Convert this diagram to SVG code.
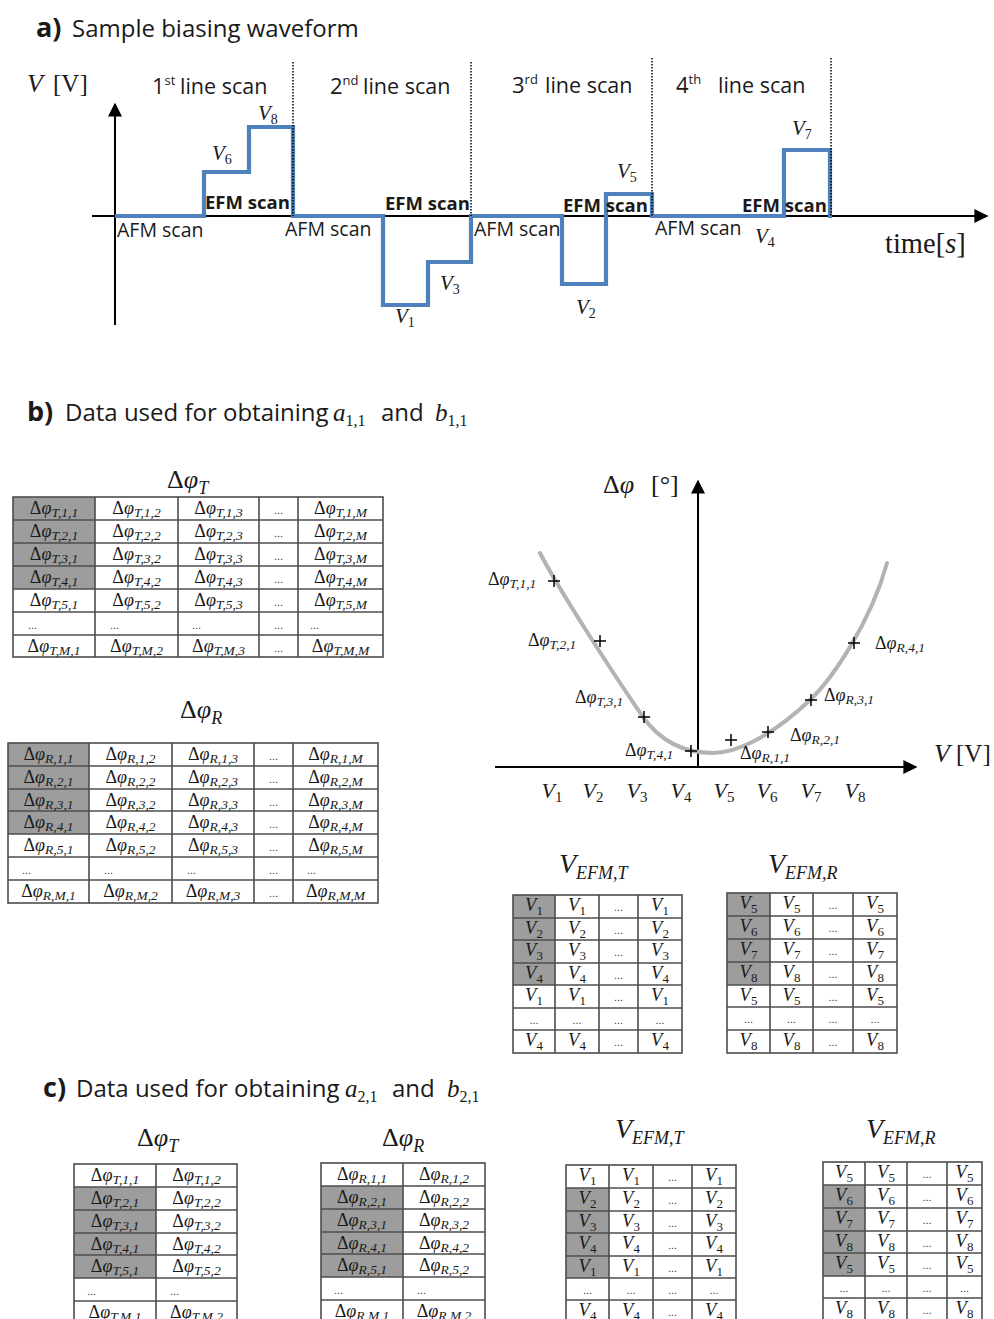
<svg xmlns="http://www.w3.org/2000/svg" width="994" height="1319" viewBox="0 0 994 1319">
<style>
.sa{font-family:"Open Sans","Liberation Sans",sans-serif;fill:#1a1a1a}
.se{font-family:"Liberation Serif","DejaVu Serif",serif;fill:#1a1a1a}
.i{font-style:italic}
.n{font-style:normal}
.b{font-weight:bold}
.t{font-family:"Liberation Serif","DejaVu Serif",serif;font-size:18px;text-anchor:middle;fill:#1a1a1a}
.l{text-anchor:start}
.s{font-size:13.5px;font-style:italic}
.v{font-family:"Liberation Serif","DejaVu Serif",serif;font-size:18.5px;text-anchor:middle;font-style:italic;fill:#1a1a1a}
.vs{font-size:13px;font-style:normal}
.d{font-family:"Liberation Sans",sans-serif;font-size:11px;fill:#333}
.m{text-anchor:middle}
.grid{fill:none;stroke:#4d4d4d;stroke-width:1.6}
.sh{fill:#9d9d9d}
.wave{fill:none;stroke:#4f81bd;stroke-width:4.2}
.ax{fill:none;stroke:#000;stroke-width:2}
.dot{fill:none;stroke:#000;stroke-width:1.5;stroke-dasharray:1.5 1.5}
.curve{fill:none;stroke:#b3b3b3;stroke-width:4;stroke-linecap:round}
.cr{fill:none;stroke:#000;stroke-width:1.5}
</style>
<defs>
<marker id="ah" viewBox="0 0 10 10" refX="9" refY="5" markerWidth="14" markerHeight="14" markerUnits="userSpaceOnUse" orient="auto"><path d="M0,0 L10,5 L0,10 z" fill="#000"/></marker>
</defs>
<rect width="994" height="1319" fill="#fff"/>

<!-- ===== Panel a ===== -->
<g id="panel-a">
<text class="sa b" x="36" y="37" font-size="27">a)</text>
<text class="sa" x="72" y="37" font-size="24">Sample biasing waveform</text>
<text class="se i" x="27" y="92" font-size="26">V</text>
<text class="se" x="53" y="92" font-size="25">[V]</text>
<text class="sa" x="152" y="94" font-size="22">1<tspan font-size="13" dy="-9">st</tspan></text>
<text class="sa" x="180" y="94" font-size="21.5">line scan</text>
<text class="sa" x="330" y="94" font-size="22">2<tspan font-size="13" dy="-9">nd</tspan></text>
<text class="sa" x="363" y="94" font-size="21.5">line scan</text>
<text class="sa" x="512" y="93" font-size="22">3<tspan font-size="13" dy="-9">rd</tspan></text>
<text class="sa" x="545" y="93" font-size="21.5">line scan</text>
<text class="sa" x="676" y="93" font-size="22">4<tspan font-size="13" dy="-9">th</tspan></text>
<text class="sa" x="718" y="93" font-size="21.5">line scan</text>
<text class="se" x="885" y="253" font-size="28.5">time[<tspan class="i">s</tspan>]</text>
</g>
<g id="waveform-axes">
<line class="ax" x1="115" y1="325" x2="115" y2="104" marker-end="url(#ah)"/>
<line class="ax" x1="92" y1="216" x2="987" y2="216" marker-end="url(#ah)"/>
</g>
<g id="waveform">
<path class="wave" d="M115,216 H204 V172 H249 V127 H293 V216 H383 V305 H428 V262 H471 V216 H562 V284 H606 V194 H652 V216 H784 V150 H830 V218"/>
<path class="dot" d="M293,62 V216 M471,62 V216 M652,58 V216 M831,58 V216"/>
</g>
<g id="waveform-labels">
<text class="sa b" x="205" y="209" font-size="18.5">EFM scan</text>
<text class="sa b" x="385" y="210" font-size="18.5">EFM scan</text>
<text class="sa b" x="563" y="212" font-size="18.5">EFM scan</text>
<text class="sa b" x="742" y="212" font-size="18.5">EFM scan</text>
<text class="sa" x="117" y="237" font-size="19.5">AFM scan</text>
<text class="sa" x="285" y="236" font-size="19.5">AFM scan</text>
<text class="sa" x="474" y="236" font-size="19.5">AFM scan</text>
<text class="sa" x="655" y="235" font-size="19.5">AFM scan</text>
<text class="se i" x="258" y="120" font-size="21">V<tspan class="n" font-size="14" dy="4">8</tspan></text>
<text class="se i" x="212" y="160" font-size="21">V<tspan class="n" font-size="14" dy="4">6</tspan></text>
<text class="se i" x="395" y="323" font-size="21">V<tspan class="n" font-size="14" dy="4">1</tspan></text>
<text class="se i" x="440" y="290" font-size="21">V<tspan class="n" font-size="14" dy="4">3</tspan></text>
<text class="se i" x="576" y="314" font-size="21">V<tspan class="n" font-size="14" dy="4">2</tspan></text>
<text class="se i" x="617" y="178" font-size="21">V<tspan class="n" font-size="14" dy="4">5</tspan></text>
<text class="se i" x="755" y="243" font-size="21">V<tspan class="n" font-size="14" dy="4">4</tspan></text>
<text class="se i" x="792" y="135" font-size="21">V<tspan class="n" font-size="14" dy="4">7</tspan></text>
</g>

<!-- ===== Panel b header ===== -->
<g id="panel-b-title">
<text class="sa b" x="27" y="421" font-size="27">b)</text>
<text class="sa" x="65" y="421" font-size="24">Data used for obtaining</text>
<text class="se i" x="333" y="421" font-size="25">a<tspan class="n" font-size="16" dy="5">1,1</tspan></text>
<text class="sa" x="381" y="421" font-size="24">and</text>
<text class="se i" x="435" y="421" font-size="25">b<tspan class="n" font-size="16" dy="5">1,1</tspan></text>
</g>

<!-- Table b ΔφT -->
<g id="table-b-phiT">
<text class="se" x="167" y="488" font-size="26">Δ<tspan class="i">φ</tspan><tspan class="i" font-size="18" dy="6">T</tspan></text>
<rect class="sh" x="13" y="497" width="82" height="92"/>
<rect class="grid" x="13" y="497" width="370" height="160"/>
<path class="grid" d="M95,497V657M178,497V657M259,497V657M298,497V657M13,520H383M13,543H383M13,566H383M13,589H383M13,612H383M13,635H383"/>
<text class="t" x="54" y="514">Δ<tspan class="i">φ</tspan><tspan class="s" dy="3">T,1,1</tspan></text>
<text class="t" x="136.5" y="514">Δ<tspan class="i">φ</tspan><tspan class="s" dy="3">T,1,2</tspan></text>
<text class="t" x="218.5" y="514">Δ<tspan class="i">φ</tspan><tspan class="s" dy="3">T,1,3</tspan></text>
<text class="d m" x="278.5" y="514">...</text>
<text class="t" x="340.5" y="514">Δ<tspan class="i">φ</tspan><tspan class="s" dy="3">T,1,M</tspan></text>
<text class="t" x="54" y="537">Δ<tspan class="i">φ</tspan><tspan class="s" dy="3">T,2,1</tspan></text>
<text class="t" x="136.5" y="537">Δ<tspan class="i">φ</tspan><tspan class="s" dy="3">T,2,2</tspan></text>
<text class="t" x="218.5" y="537">Δ<tspan class="i">φ</tspan><tspan class="s" dy="3">T,2,3</tspan></text>
<text class="d m" x="278.5" y="537">...</text>
<text class="t" x="340.5" y="537">Δ<tspan class="i">φ</tspan><tspan class="s" dy="3">T,2,M</tspan></text>
<text class="t" x="54" y="560">Δ<tspan class="i">φ</tspan><tspan class="s" dy="3">T,3,1</tspan></text>
<text class="t" x="136.5" y="560">Δ<tspan class="i">φ</tspan><tspan class="s" dy="3">T,3,2</tspan></text>
<text class="t" x="218.5" y="560">Δ<tspan class="i">φ</tspan><tspan class="s" dy="3">T,3,3</tspan></text>
<text class="d m" x="278.5" y="560">...</text>
<text class="t" x="340.5" y="560">Δ<tspan class="i">φ</tspan><tspan class="s" dy="3">T,3,M</tspan></text>
<text class="t" x="54" y="583">Δ<tspan class="i">φ</tspan><tspan class="s" dy="3">T,4,1</tspan></text>
<text class="t" x="136.5" y="583">Δ<tspan class="i">φ</tspan><tspan class="s" dy="3">T,4,2</tspan></text>
<text class="t" x="218.5" y="583">Δ<tspan class="i">φ</tspan><tspan class="s" dy="3">T,4,3</tspan></text>
<text class="d m" x="278.5" y="583">...</text>
<text class="t" x="340.5" y="583">Δ<tspan class="i">φ</tspan><tspan class="s" dy="3">T,4,M</tspan></text>
<text class="t" x="54" y="606">Δ<tspan class="i">φ</tspan><tspan class="s" dy="3">T,5,1</tspan></text>
<text class="t" x="136.5" y="606">Δ<tspan class="i">φ</tspan><tspan class="s" dy="3">T,5,2</tspan></text>
<text class="t" x="218.5" y="606">Δ<tspan class="i">φ</tspan><tspan class="s" dy="3">T,5,3</tspan></text>
<text class="d m" x="278.5" y="606">...</text>
<text class="t" x="340.5" y="606">Δ<tspan class="i">φ</tspan><tspan class="s" dy="3">T,5,M</tspan></text>
<text class="d" x="28" y="629">...</text>
<text class="d" x="110" y="629">...</text>
<text class="d" x="192" y="629">...</text>
<text class="d m" x="278.5" y="629">...</text>
<text class="d" x="310" y="629">...</text>
<text class="t" x="54" y="652">Δ<tspan class="i">φ</tspan><tspan class="s" dy="3">T,M,1</tspan></text>
<text class="t" x="136.5" y="652">Δ<tspan class="i">φ</tspan><tspan class="s" dy="3">T,M,2</tspan></text>
<text class="t" x="218.5" y="652">Δ<tspan class="i">φ</tspan><tspan class="s" dy="3">T,M,3</tspan></text>
<text class="d m" x="278.5" y="652">...</text>
<text class="t" x="340.5" y="652">Δ<tspan class="i">φ</tspan><tspan class="s" dy="3">T,M,M</tspan></text>
</g>

<!-- Table b ΔφR -->
<g id="table-b-phiR">
<text class="se" x="180" y="718" font-size="26">Δ<tspan class="i">φ</tspan><tspan class="i" font-size="18" dy="6">R</tspan></text>
<rect class="sh" x="8" y="743" width="81" height="91"/>
<rect class="grid" x="8" y="743" width="370" height="160"/>
<path class="grid" d="M89,743V903M172,743V903M254,743V903M293,743V903M8,766H378M8,789H378M8,811H378M8,834H378M8,857H378M8,880H378"/>
<text class="t" x="48.5" y="760">Δ<tspan class="i">φ</tspan><tspan class="s" dy="3">R,1,1</tspan></text>
<text class="t" x="130.5" y="760">Δ<tspan class="i">φ</tspan><tspan class="s" dy="3">R,1,2</tspan></text>
<text class="t" x="213" y="760">Δ<tspan class="i">φ</tspan><tspan class="s" dy="3">R,1,3</tspan></text>
<text class="d m" x="273.5" y="760">...</text>
<text class="t" x="335.5" y="760">Δ<tspan class="i">φ</tspan><tspan class="s" dy="3">R,1,M</tspan></text>
<text class="t" x="48.5" y="783">Δ<tspan class="i">φ</tspan><tspan class="s" dy="3">R,2,1</tspan></text>
<text class="t" x="130.5" y="783">Δ<tspan class="i">φ</tspan><tspan class="s" dy="3">R,2,2</tspan></text>
<text class="t" x="213" y="783">Δ<tspan class="i">φ</tspan><tspan class="s" dy="3">R,2,3</tspan></text>
<text class="d m" x="273.5" y="783">...</text>
<text class="t" x="335.5" y="783">Δ<tspan class="i">φ</tspan><tspan class="s" dy="3">R,2,M</tspan></text>
<text class="t" x="48.5" y="806">Δ<tspan class="i">φ</tspan><tspan class="s" dy="3">R,3,1</tspan></text>
<text class="t" x="130.5" y="806">Δ<tspan class="i">φ</tspan><tspan class="s" dy="3">R,3,2</tspan></text>
<text class="t" x="213" y="806">Δ<tspan class="i">φ</tspan><tspan class="s" dy="3">R,3,3</tspan></text>
<text class="d m" x="273.5" y="806">...</text>
<text class="t" x="335.5" y="806">Δ<tspan class="i">φ</tspan><tspan class="s" dy="3">R,3,M</tspan></text>
<text class="t" x="48.5" y="828">Δ<tspan class="i">φ</tspan><tspan class="s" dy="3">R,4,1</tspan></text>
<text class="t" x="130.5" y="828">Δ<tspan class="i">φ</tspan><tspan class="s" dy="3">R,4,2</tspan></text>
<text class="t" x="213" y="828">Δ<tspan class="i">φ</tspan><tspan class="s" dy="3">R,4,3</tspan></text>
<text class="d m" x="273.5" y="828">...</text>
<text class="t" x="335.5" y="828">Δ<tspan class="i">φ</tspan><tspan class="s" dy="3">R,4,M</tspan></text>
<text class="t" x="48.5" y="851">Δ<tspan class="i">φ</tspan><tspan class="s" dy="3">R,5,1</tspan></text>
<text class="t" x="130.5" y="851">Δ<tspan class="i">φ</tspan><tspan class="s" dy="3">R,5,2</tspan></text>
<text class="t" x="213" y="851">Δ<tspan class="i">φ</tspan><tspan class="s" dy="3">R,5,3</tspan></text>
<text class="d m" x="273.5" y="851">...</text>
<text class="t" x="335.5" y="851">Δ<tspan class="i">φ</tspan><tspan class="s" dy="3">R,5,M</tspan></text>
<text class="d" x="22" y="874">...</text>
<text class="d" x="104" y="874">...</text>
<text class="d" x="187" y="874">...</text>
<text class="d m" x="273.5" y="874">...</text>
<text class="d" x="307" y="874">...</text>
<text class="t" x="48.5" y="897">Δ<tspan class="i">φ</tspan><tspan class="s" dy="3">R,M,1</tspan></text>
<text class="t" x="130.5" y="897">Δ<tspan class="i">φ</tspan><tspan class="s" dy="3">R,M,2</tspan></text>
<text class="t" x="213" y="897">Δ<tspan class="i">φ</tspan><tspan class="s" dy="3">R,M,3</tspan></text>
<text class="d m" x="273.5" y="897">...</text>
<text class="t" x="335.5" y="897">Δ<tspan class="i">φ</tspan><tspan class="s" dy="3">R,M,M</tspan></text>
</g>

<!-- Graph -->
<g id="graph-axes">
<line class="ax" x1="698" y1="767" x2="698" y2="481" marker-end="url(#ah)"/>
<line class="ax" x1="495" y1="767" x2="916" y2="767" marker-end="url(#ah)"/>
<text class="se" x="603" y="493" font-size="26">Δ<tspan class="i">φ</tspan></text>
<text class="se" x="651" y="493" font-size="26">[°]</text>
<text class="se i" x="934" y="762" font-size="26">V</text>
<text class="se" x="956" y="762" font-size="25">[V]</text>
</g>
<g id="graph-curve">
<path class="curve" d="M540,553 C558,588 612,672 643,717 C663,745 690,753 713,753 C735,753 770,738 810,700 C830,681 870,625 887,563"/>
</g>
<g id="graph-points">
<path class="cr" d="M548,581h12M554,575v12 M594,641h12M600,635v12 M638,717h12M644,711v12 M685,751h12M691,745v12 M725,740h12M731,734v12 M762,732h12M768,726v12 M805,700h12M811,694v12 M848,643h12M854,637v12"/>
<text class="t l" x="488" y="585">Δ<tspan class="i">φ</tspan><tspan class="s" dy="3">T,1,1</tspan></text>
<text class="t l" x="528" y="646">Δ<tspan class="i">φ</tspan><tspan class="s" dy="3">T,2,1</tspan></text>
<text class="t l" x="575" y="703">Δ<tspan class="i">φ</tspan><tspan class="s" dy="3">T,3,1</tspan></text>
<text class="t l" x="625" y="756">Δ<tspan class="i">φ</tspan><tspan class="s" dy="3">T,4,1</tspan></text>
<text class="t l" x="740" y="759">Δ<tspan class="i">φ</tspan><tspan class="s" dy="3">R,1,1</tspan></text>
<text class="t l" x="790" y="741">Δ<tspan class="i">φ</tspan><tspan class="s" dy="3">R,2,1</tspan></text>
<text class="t l" x="824" y="701">Δ<tspan class="i">φ</tspan><tspan class="s" dy="3">R,3,1</tspan></text>
<text class="t l" x="875" y="649">Δ<tspan class="i">φ</tspan><tspan class="s" dy="3">R,4,1</tspan></text>
</g>
<g id="graph-ticks">
<text class="se i m" x="552" y="798" font-size="22">V<tspan class="n" font-size="15" dy="4">1</tspan></text>
<text class="se i m" x="593" y="798" font-size="22">V<tspan class="n" font-size="15" dy="4">2</tspan></text>
<text class="se i m" x="637" y="798" font-size="22">V<tspan class="n" font-size="15" dy="4">3</tspan></text>
<text class="se i m" x="681" y="798" font-size="22">V<tspan class="n" font-size="15" dy="4">4</tspan></text>
<text class="se i m" x="724" y="798" font-size="22">V<tspan class="n" font-size="15" dy="4">5</tspan></text>
<text class="se i m" x="767" y="798" font-size="22">V<tspan class="n" font-size="15" dy="4">6</tspan></text>
<text class="se i m" x="811" y="798" font-size="22">V<tspan class="n" font-size="15" dy="4">7</tspan></text>
<text class="se i m" x="855" y="798" font-size="22">V<tspan class="n" font-size="15" dy="4">8</tspan></text>
</g>

<!-- Table b VEFM,T -->
<g id="table-b-VT">
<text class="se i" x="559" y="873" font-size="28">V<tspan font-size="18" dy="6">EFM,T</tspan></text>
<rect class="sh" x="513" y="895" width="42" height="90"/>
<rect class="grid" x="513" y="895" width="169" height="158"/>
<path class="grid" d="M555,895V1053M599,895V1053M638,895V1053M513,918H682M513,940H682M513,963H682M513,985H682M513,1008H682M513,1030H682"/>
<text class="v" x="534" y="911">V<tspan class="vs" dy="4">1</tspan></text><text class="v" x="577" y="911">V<tspan class="vs" dy="4">1</tspan></text><text class="d m" x="618.5" y="911">...</text><text class="v" x="660" y="911">V<tspan class="vs" dy="4">1</tspan></text>
<text class="v" x="534" y="934">V<tspan class="vs" dy="4">2</tspan></text><text class="v" x="577" y="934">V<tspan class="vs" dy="4">2</tspan></text><text class="d m" x="618.5" y="934">...</text><text class="v" x="660" y="934">V<tspan class="vs" dy="4">2</tspan></text>
<text class="v" x="534" y="956">V<tspan class="vs" dy="4">3</tspan></text><text class="v" x="577" y="956">V<tspan class="vs" dy="4">3</tspan></text><text class="d m" x="618.5" y="956">...</text><text class="v" x="660" y="956">V<tspan class="vs" dy="4">3</tspan></text>
<text class="v" x="534" y="979">V<tspan class="vs" dy="4">4</tspan></text><text class="v" x="577" y="979">V<tspan class="vs" dy="4">4</tspan></text><text class="d m" x="618.5" y="979">...</text><text class="v" x="660" y="979">V<tspan class="vs" dy="4">4</tspan></text>
<text class="v" x="534" y="1001">V<tspan class="vs" dy="4">1</tspan></text><text class="v" x="577" y="1001">V<tspan class="vs" dy="4">1</tspan></text><text class="d m" x="618.5" y="1001">...</text><text class="v" x="660" y="1001">V<tspan class="vs" dy="4">1</tspan></text>
<text class="d m" x="534" y="1024">...</text><text class="d m" x="577" y="1024">...</text><text class="d m" x="618.5" y="1024">...</text><text class="d m" x="660" y="1024">...</text>
<text class="v" x="534" y="1046">V<tspan class="vs" dy="4">4</tspan></text><text class="v" x="577" y="1046">V<tspan class="vs" dy="4">4</tspan></text><text class="d m" x="618.5" y="1046">...</text><text class="v" x="660" y="1046">V<tspan class="vs" dy="4">4</tspan></text>
</g>

<!-- Table b VEFM,R -->
<g id="table-b-VR">
<text class="se i" x="768" y="873" font-size="28">V<tspan font-size="18" dy="6">EFM,R</tspan></text>
<rect class="sh" x="727" y="893" width="43" height="92"/>
<rect class="grid" x="727" y="893" width="170" height="160"/>
<path class="grid" d="M770,893V1053M813,893V1053M853,893V1053M727,916H897M727,939H897M727,962H897M727,985H897M727,1007H897M727,1030H897"/>
<text class="v" x="748.5" y="909">V<tspan class="vs" dy="4">5</tspan></text><text class="v" x="791.5" y="909">V<tspan class="vs" dy="4">5</tspan></text><text class="d m" x="833" y="909">...</text><text class="v" x="875" y="909">V<tspan class="vs" dy="4">5</tspan></text>
<text class="v" x="748.5" y="932">V<tspan class="vs" dy="4">6</tspan></text><text class="v" x="791.5" y="932">V<tspan class="vs" dy="4">6</tspan></text><text class="d m" x="833" y="932">...</text><text class="v" x="875" y="932">V<tspan class="vs" dy="4">6</tspan></text>
<text class="v" x="748.5" y="955">V<tspan class="vs" dy="4">7</tspan></text><text class="v" x="791.5" y="955">V<tspan class="vs" dy="4">7</tspan></text><text class="d m" x="833" y="955">...</text><text class="v" x="875" y="955">V<tspan class="vs" dy="4">7</tspan></text>
<text class="v" x="748.5" y="978">V<tspan class="vs" dy="4">8</tspan></text><text class="v" x="791.5" y="978">V<tspan class="vs" dy="4">8</tspan></text><text class="d m" x="833" y="978">...</text><text class="v" x="875" y="978">V<tspan class="vs" dy="4">8</tspan></text>
<text class="v" x="748.5" y="1001">V<tspan class="vs" dy="4">5</tspan></text><text class="v" x="791.5" y="1001">V<tspan class="vs" dy="4">5</tspan></text><text class="d m" x="833" y="1001">...</text><text class="v" x="875" y="1001">V<tspan class="vs" dy="4">5</tspan></text>
<text class="d m" x="748.5" y="1023">...</text><text class="d m" x="791.5" y="1023">...</text><text class="d m" x="833" y="1023">...</text><text class="d m" x="875" y="1023">...</text>
<text class="v" x="748.5" y="1046">V<tspan class="vs" dy="4">8</tspan></text><text class="v" x="791.5" y="1046">V<tspan class="vs" dy="4">8</tspan></text><text class="d m" x="833" y="1046">...</text><text class="v" x="875" y="1046">V<tspan class="vs" dy="4">8</tspan></text>
</g>

<!-- ===== Panel c ===== -->
<g id="panel-c-title">
<text class="sa b" x="43" y="1097" font-size="27">c)</text>
<text class="sa" x="76" y="1097" font-size="24">Data used for obtaining</text>
<text class="se i" x="345" y="1097" font-size="25">a<tspan class="n" font-size="16" dy="5">2,1</tspan></text>
<text class="sa" x="392" y="1097" font-size="24">and</text>
<text class="se i" x="447" y="1097" font-size="25">b<tspan class="n" font-size="16" dy="5">2,1</tspan></text>
</g>

<g id="table-c-phiT">
<text class="se" x="137" y="1146" font-size="26">Δ<tspan class="i">φ</tspan><tspan class="i" font-size="18" dy="6">T</tspan></text>
<rect class="sh" x="74" y="1187" width="82" height="91"/>
<rect class="grid" x="74" y="1164" width="163" height="170"/>
<path class="grid" d="M156,1164V1334M74,1187H237M74,1210H237M74,1233H237M74,1255H237M74,1278H237M74,1301H237"/>
<text class="t" x="115" y="1181">Δ<tspan class="i">φ</tspan><tspan class="s" dy="3">T,1,1</tspan></text><text class="t" x="196.5" y="1181">Δ<tspan class="i">φ</tspan><tspan class="s" dy="3">T,1,2</tspan></text>
<text class="t" x="115" y="1204">Δ<tspan class="i">φ</tspan><tspan class="s" dy="3">T,2,1</tspan></text><text class="t" x="196.5" y="1204">Δ<tspan class="i">φ</tspan><tspan class="s" dy="3">T,2,2</tspan></text>
<text class="t" x="115" y="1227">Δ<tspan class="i">φ</tspan><tspan class="s" dy="3">T,3,1</tspan></text><text class="t" x="196.5" y="1227">Δ<tspan class="i">φ</tspan><tspan class="s" dy="3">T,3,2</tspan></text>
<text class="t" x="115" y="1250">Δ<tspan class="i">φ</tspan><tspan class="s" dy="3">T,4,1</tspan></text><text class="t" x="196.5" y="1250">Δ<tspan class="i">φ</tspan><tspan class="s" dy="3">T,4,2</tspan></text>
<text class="t" x="115" y="1272">Δ<tspan class="i">φ</tspan><tspan class="s" dy="3">T,5,1</tspan></text><text class="t" x="196.5" y="1272">Δ<tspan class="i">φ</tspan><tspan class="s" dy="3">T,5,2</tspan></text>
<text class="d" x="87" y="1295">...</text><text class="d" x="170" y="1295">...</text>
<text class="t" x="115" y="1318">Δ<tspan class="i">φ</tspan><tspan class="s" dy="3">T,M,1</tspan></text><text class="t" x="196.5" y="1318">Δ<tspan class="i">φ</tspan><tspan class="s" dy="3">T,M,2</tspan></text>
</g>

<g id="table-c-phiR">
<text class="se" x="382" y="1146" font-size="26">Δ<tspan class="i">φ</tspan><tspan class="i" font-size="18" dy="6">R</tspan></text>
<rect class="sh" x="321" y="1186" width="82" height="91"/>
<rect class="grid" x="321" y="1163" width="164" height="170"/>
<path class="grid" d="M403,1163V1333M321,1186H485M321,1209H485M321,1232H485M321,1254H485M321,1277H485M321,1300H485"/>
<text class="t" x="362" y="1180">Δ<tspan class="i">φ</tspan><tspan class="s" dy="3">R,1,1</tspan></text><text class="t" x="444" y="1180">Δ<tspan class="i">φ</tspan><tspan class="s" dy="3">R,1,2</tspan></text>
<text class="t" x="362" y="1203">Δ<tspan class="i">φ</tspan><tspan class="s" dy="3">R,2,1</tspan></text><text class="t" x="444" y="1203">Δ<tspan class="i">φ</tspan><tspan class="s" dy="3">R,2,2</tspan></text>
<text class="t" x="362" y="1226">Δ<tspan class="i">φ</tspan><tspan class="s" dy="3">R,3,1</tspan></text><text class="t" x="444" y="1226">Δ<tspan class="i">φ</tspan><tspan class="s" dy="3">R,3,2</tspan></text>
<text class="t" x="362" y="1249">Δ<tspan class="i">φ</tspan><tspan class="s" dy="3">R,4,1</tspan></text><text class="t" x="444" y="1249">Δ<tspan class="i">φ</tspan><tspan class="s" dy="3">R,4,2</tspan></text>
<text class="t" x="362" y="1271">Δ<tspan class="i">φ</tspan><tspan class="s" dy="3">R,5,1</tspan></text><text class="t" x="444" y="1271">Δ<tspan class="i">φ</tspan><tspan class="s" dy="3">R,5,2</tspan></text>
<text class="d" x="334" y="1294">...</text><text class="d" x="417" y="1294">...</text>
<text class="t" x="362" y="1317">Δ<tspan class="i">φ</tspan><tspan class="s" dy="3">R,M,1</tspan></text><text class="t" x="444" y="1317">Δ<tspan class="i">φ</tspan><tspan class="s" dy="3">R,M,2</tspan></text>
</g>

<g id="table-c-VT">
<text class="se i" x="615" y="1138" font-size="28">V<tspan font-size="18" dy="6">EFM,T</tspan></text>
<rect class="sh" x="566" y="1188" width="43" height="90"/>
<rect class="grid" x="566" y="1165" width="170" height="170"/>
<path class="grid" d="M609,1165V1335M653,1165V1335M692,1165V1335M566,1188H736M566,1211H736M566,1233H736M566,1256H736M566,1278H736M566,1300H736"/>
<text class="v" x="587.5" y="1181">V<tspan class="vs" dy="4">1</tspan></text><text class="v" x="631" y="1181">V<tspan class="vs" dy="4">1</tspan></text><text class="d m" x="672.5" y="1181">...</text><text class="v" x="714" y="1181">V<tspan class="vs" dy="4">1</tspan></text>
<text class="v" x="587.5" y="1204">V<tspan class="vs" dy="4">2</tspan></text><text class="v" x="631" y="1204">V<tspan class="vs" dy="4">2</tspan></text><text class="d m" x="672.5" y="1204">...</text><text class="v" x="714" y="1204">V<tspan class="vs" dy="4">2</tspan></text>
<text class="v" x="587.5" y="1227">V<tspan class="vs" dy="4">3</tspan></text><text class="v" x="631" y="1227">V<tspan class="vs" dy="4">3</tspan></text><text class="d m" x="672.5" y="1227">...</text><text class="v" x="714" y="1227">V<tspan class="vs" dy="4">3</tspan></text>
<text class="v" x="587.5" y="1249">V<tspan class="vs" dy="4">4</tspan></text><text class="v" x="631" y="1249">V<tspan class="vs" dy="4">4</tspan></text><text class="d m" x="672.5" y="1249">...</text><text class="v" x="714" y="1249">V<tspan class="vs" dy="4">4</tspan></text>
<text class="v" x="587.5" y="1272">V<tspan class="vs" dy="4">1</tspan></text><text class="v" x="631" y="1272">V<tspan class="vs" dy="4">1</tspan></text><text class="d m" x="672.5" y="1272">...</text><text class="v" x="714" y="1272">V<tspan class="vs" dy="4">1</tspan></text>
<text class="d m" x="587.5" y="1294">...</text><text class="d m" x="631" y="1294">...</text><text class="d m" x="672.5" y="1294">...</text><text class="d m" x="714" y="1294">...</text>
<text class="v" x="587.5" y="1316">V<tspan class="vs" dy="4">4</tspan></text><text class="v" x="631" y="1316">V<tspan class="vs" dy="4">4</tspan></text><text class="d m" x="672.5" y="1316">...</text><text class="v" x="714" y="1316">V<tspan class="vs" dy="4">4</tspan></text>
</g>

<g id="table-c-VR">
<text class="se i" x="866" y="1138" font-size="28">V<tspan font-size="18" dy="6">EFM,R</tspan></text>
<rect class="sh" x="823" y="1185" width="42" height="91"/>
<rect class="grid" x="823" y="1162" width="159" height="170"/>
<path class="grid" d="M865,1162V1332M907,1162V1332M947,1162V1332M823,1185H982M823,1208H982M823,1231H982M823,1253H982M823,1276H982M823,1298H982"/>
<text class="v" x="844" y="1178">V<tspan class="vs" dy="4">5</tspan></text><text class="v" x="886" y="1178">V<tspan class="vs" dy="4">5</tspan></text><text class="d m" x="927" y="1178">...</text><text class="v" x="964.5" y="1178">V<tspan class="vs" dy="4">5</tspan></text>
<text class="v" x="844" y="1201">V<tspan class="vs" dy="4">6</tspan></text><text class="v" x="886" y="1201">V<tspan class="vs" dy="4">6</tspan></text><text class="d m" x="927" y="1201">...</text><text class="v" x="964.5" y="1201">V<tspan class="vs" dy="4">6</tspan></text>
<text class="v" x="844" y="1224">V<tspan class="vs" dy="4">7</tspan></text><text class="v" x="886" y="1224">V<tspan class="vs" dy="4">7</tspan></text><text class="d m" x="927" y="1224">...</text><text class="v" x="964.5" y="1224">V<tspan class="vs" dy="4">7</tspan></text>
<text class="v" x="844" y="1247">V<tspan class="vs" dy="4">8</tspan></text><text class="v" x="886" y="1247">V<tspan class="vs" dy="4">8</tspan></text><text class="d m" x="927" y="1247">...</text><text class="v" x="964.5" y="1247">V<tspan class="vs" dy="4">8</tspan></text>
<text class="v" x="844" y="1269">V<tspan class="vs" dy="4">5</tspan></text><text class="v" x="886" y="1269">V<tspan class="vs" dy="4">5</tspan></text><text class="d m" x="927" y="1269">...</text><text class="v" x="964.5" y="1269">V<tspan class="vs" dy="4">5</tspan></text>
<text class="d m" x="844" y="1292">...</text><text class="d m" x="886" y="1292">...</text><text class="d m" x="927" y="1292">...</text><text class="d m" x="964.5" y="1292">...</text>
<text class="v" x="844" y="1314">V<tspan class="vs" dy="4">8</tspan></text><text class="v" x="886" y="1314">V<tspan class="vs" dy="4">8</tspan></text><text class="d m" x="927" y="1314">...</text><text class="v" x="964.5" y="1314">V<tspan class="vs" dy="4">8</tspan></text>
</g>
</svg>
